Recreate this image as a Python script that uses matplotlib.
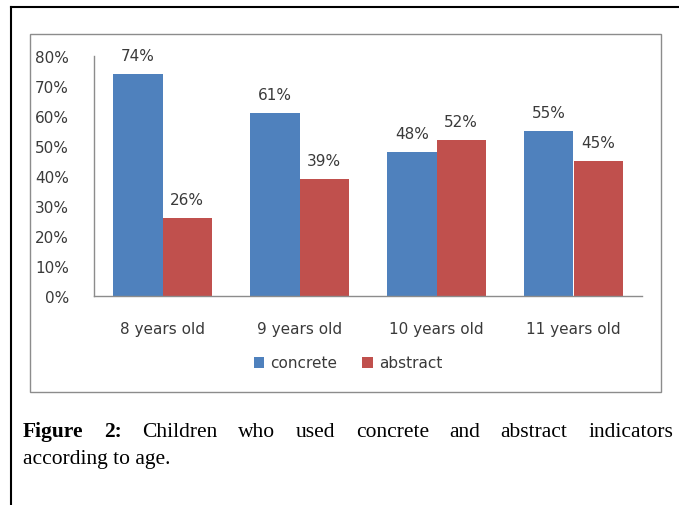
import matplotlib
matplotlib.use("Agg")
import matplotlib.pyplot as plt
import numpy as np
from matplotlib.lines import Line2D
from matplotlib.patches import Rectangle

ages = ["8 years old", "9 years old", "10 years old", "11 years old"]
concrete = [74, 61, 48, 55]
abstract = [26, 39, 52, 45]
series_names = ["concrete", "abstract"]
caption_line1 = ["Figure", "2:", "Children", "who", "used", "concrete", "and", "abstract", "indicators"]
caption_bold = 2
caption_line2 = "according to age."

BLUE = "#4F81BD"
RED = "#C0504D"
TXT = "#3a3a3a"
W, H = 679, 506


def px(x, y):
    # pixel coords (top-left origin) -> figure fraction
    return x / W, 1 - y / H


fig = plt.figure(figsize=(W / 100, H / 100), dpi=100)

# outer page frame and chart box
fig.add_artist(Line2D([11 / W, 11 / W], [0, 1 - 8 / H], color="black", lw=1.5, transform=fig.transFigure))
fig.add_artist(Line2D([11 / W, 1], [1 - 8 / H, 1 - 8 / H], color="black", lw=1.5, transform=fig.transFigure))
x0, y0 = px(30, 393)
fig.add_artist(Rectangle((x0, y0), (661 - 30) / W, (393 - 35) / H, fill=False,
                         edgecolor="#8c8c8c", lw=1, transform=fig.transFigure))

left, bottom = px(94, 297)
ax = fig.add_axes([left, bottom, (642 - 94) / W, (297 - 57) / H])

x = np.arange(len(ages))
bw = 0.36
b1 = ax.bar(x - bw / 2, concrete, bw, color=BLUE, label=series_names[0])
b2 = ax.bar(x + bw / 2, abstract, bw, color=RED, label=series_names[1])

for bars, vals in ((b1, concrete), (b2, abstract)):
    for rect, v in zip(bars, vals):
        ax.annotate(f"{v}%", (rect.get_x() + rect.get_width() / 2, v), xytext=(0, 13),
                    textcoords="offset points", ha="center", va="center", fontsize=11, color=TXT)

ax.set_xlim(-0.5, len(ages) - 0.5)
ax.set_ylim(0, 80)
ax.set_yticks(range(0, 81, 10))
ax.set_yticklabels([f"{t}%" for t in range(0, 81, 10)])
ax.set_xticks(x)
ax.set_xticklabels(ages)
ax.tick_params(axis="y", length=0, pad=18, labelsize=11, labelcolor=TXT)
ax.tick_params(axis="x", length=0, pad=18, labelsize=11, labelcolor=TXT)
for s in ("top", "right"):
    ax.spines[s].set_visible(False)
for s in ("left", "bottom"):
    ax.spines[s].set_color("#8c8c8c")
    ax.spines[s].set_linewidth(1)

fig.legend(loc="center", bbox_to_anchor=px(348, 364), ncol=2, frameon=False, fontsize=11,
           handlelength=0.7, handleheight=0.7, handletextpad=0.4, columnspacing=1.6,
           labelcolor=TXT)

# justified caption, first line
cap_font = dict(family="Liberation Serif", fontsize=15.5, color="black")
renderer = fig.canvas.get_renderer()
texts = []
for i, w in enumerate(caption_line1):
    t = fig.text(0, 0, w, ha="left", va="baseline",
                 fontweight="bold" if i < caption_bold else "normal", **cap_font)
    texts.append(t)
widths = [t.get_window_extent(renderer).width for t in texts]
x_left, x_right, base = 23, 673, 437
gap = (x_right - x_left - sum(widths)) / (len(texts) - 1)
cur = x_left
for t, wd in zip(texts, widths):
    t.set_position(px(cur, base))
    cur += wd + gap
fig.text(*px(x_left, 464), caption_line2, ha="left", va="baseline", **cap_font)

fig.savefig("out.png", dpi=100)
